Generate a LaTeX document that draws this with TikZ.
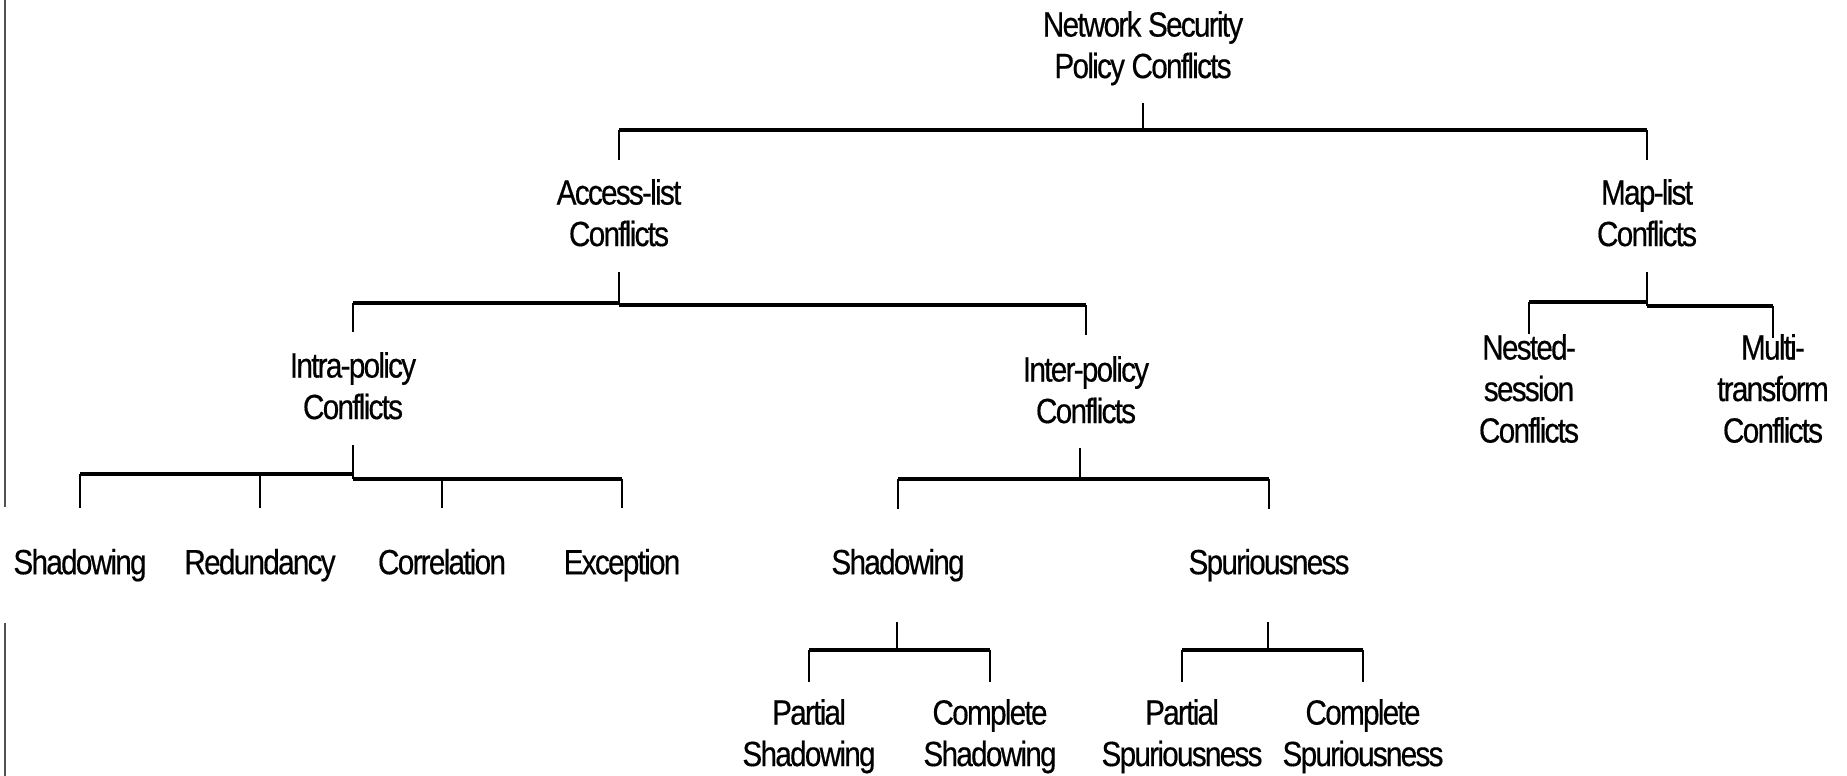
\documentclass[tikz,border=0pt]{standalone}
\usepackage{fontspec}
\setmainfont{Liberation Sans}[FakeStretch=0.85,LetterSpace=-5,Ligatures=CommonOff,FakeBold=0.4]
\begin{document}
\begin{tikzpicture}[x=1pt,y=-1pt,
  lbl/.style={anchor=north,align=center,inner sep=0pt,
    font=\fontsize{35}{41.5}\selectfont,
    execute at begin node={\rule{0pt}{26pt}},
    execute at end node={\rule[-9pt]{0pt}{9pt}}},
  bar/.style={line width=4pt},
  stem/.style={line width=2.8pt},
  drop/.style={line width=2.3pt},
  margin/.style={line width=2pt,draw=black!68}]
\useasboundingbox (0,0) rectangle (1847,776);

% thin rule along the left edge
\draw[margin] (4.5,0) -- (4.5,507);
\draw[margin] (4.5,623) -- (4.5,776);

% ---- nodes ----
\node[lbl] (root)  at (1143,11)  {Network Security\\Policy Conflicts};
\node[lbl] (acc)   at (619,179)  {Access-list\\Conflicts};
\node[lbl] (map)   at (1647,179) {Map-list\\Conflicts};
\node[lbl] (intra) at (353,352)  {Intra-policy\\Conflicts};
\node[lbl] (inter) at (1086,356) {Inter-policy\\Conflicts};
\node[lbl] (nest)  at (1529,334) {Nested-\\session\\Conflicts};
\node[lbl] (multi) at (1773,334) {Multi-\\transform\\Conflicts};
\node[lbl] (shA)   at (80,548)   {Shadowing};
\node[lbl] (red)   at (260,548)  {Redundancy};
\node[lbl] (cor)   at (442,548)  {Correlation};
\node[lbl] (exc)   at (622,548)  {Exception};
\node[lbl] (shB)   at (898,548)  {Shadowing};
\node[lbl] (spu)   at (1269,548) {Spuriousness};
\node[lbl] (psh)   at (809,699)  {Partial\\Shadowing};
\node[lbl] (csh)   at (990,699)  {Complete\\Shadowing};
\node[lbl] (psp)   at (1182,699) {Partial\\Spuriousness};
\node[lbl] (csp)   at (1363,699) {Complete\\Spuriousness};

% ---- junction points on the bars ----
\coordinate (rootJ)  at (1143,130);
\coordinate (accJL)  at (619,303);
\coordinate (accJR)  at (619,305);
\coordinate (mapJL)  at (1647,302);
\coordinate (mapJR)  at (1647,306);
\coordinate (intraJL) at (353,474);
\coordinate (intraJR) at (353,479);
\coordinate (interJ) at (1080,479);
\coordinate (shBJ)   at (897,650);
\coordinate (spuJ)   at (1268,650);

% ---- root ----
\draw[stem] ([yshift=-16pt]root.south) -- (rootJ);
\draw[bar] (acc.north |- rootJ) -- (map.north |- rootJ);
\draw[drop, shorten >=19pt] (acc.north |- rootJ) -- (acc.north);
\draw[drop, shorten >=19pt] (map.north |- rootJ) -- (map.north);

% ---- access-list ----
\draw[stem] ([yshift=-17pt]acc.south) -- (accJR);
\draw[bar] (intra.north |- accJL) -- (accJL);
\draw[bar] (accJR) -- (inter.north |- accJR);
\draw[drop, shorten >=20pt] (intra.north |- accJL) -- (intra.north);
\draw[drop, shorten >=21pt] (inter.north |- accJR) -- (inter.north);

% ---- map-list ----
\draw[stem] ([yshift=-17pt]map.south) -- (mapJR);
\draw[bar] (nest.north |- mapJL) -- (mapJL);
\draw[bar] (mapJR) -- (multi.north |- mapJR);
\draw[drop] (nest.north |- mapJL) -- (nest.north);
\draw[drop, shorten >=-4pt] (multi.north |- mapJR) -- (multi.north);

% ---- intra-policy ----
\draw[stem] ([yshift=-17pt]intra.south) -- (intraJR);
\draw[bar] (shA.north |- intraJL) -- (intraJL);
\draw[bar] (intraJR) -- (exc.north |- intraJR);
\draw[drop, shorten >=40pt] (shA.north |- intraJL) -- (shA.north);
\draw[drop, shorten >=40pt] (red.north |- intraJL) -- (red.north);
\draw[drop, shorten >=40pt] (cor.north |- intraJR) -- (cor.north);
\draw[drop, shorten >=40pt] (exc.north |- intraJR) -- (exc.north);

% ---- inter-policy ----
\draw[stem] ([xshift=-6pt,yshift=-16pt]inter.south) -- (interJ);
\draw[bar] (shB.north |- interJ) -- (spu.north |- interJ);
\draw[drop, shorten >=39pt] (shB.north |- interJ) -- (shB.north);
\draw[drop, shorten >=39pt] (spu.north |- interJ) -- (spu.north);

% ---- shadowing ----
\draw[stem] ([xshift=-1pt,yshift=-39pt]shB.south) -- (shBJ);
\draw[bar] (psh.north |- shBJ) -- (csh.north |- shBJ);
\draw[drop, shorten >=17pt] (psh.north |- shBJ) -- (psh.north);
\draw[drop, shorten >=17pt] (csh.north |- shBJ) -- (csh.north);

% ---- spuriousness ----
\draw[stem] ([xshift=-1pt,yshift=-39pt]spu.south) -- (spuJ);
\draw[bar] (psp.north |- spuJ) -- (csp.north |- spuJ);
\draw[drop, shorten >=17pt] (psp.north |- spuJ) -- (psp.north);
\draw[drop, shorten >=17pt] (csp.north |- spuJ) -- (csp.north);
\end{tikzpicture}
\end{document}
